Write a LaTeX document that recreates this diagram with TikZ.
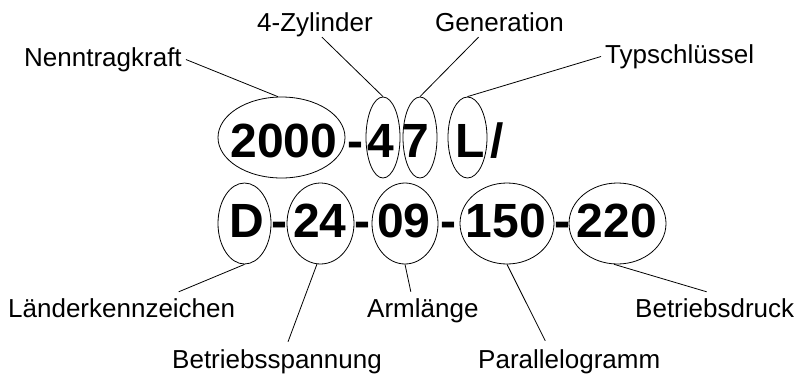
\documentclass[tikz,border=0pt]{standalone}
\usepackage{fontspec}
\setmainfont{Liberation Sans}
\usetikzlibrary{shapes.geometric,calc}

\tikzset{
  ring/.style={draw, ellipse, line width=0.8pt, inner sep=0pt},
  code/.style={anchor=base, inner sep=0pt, font=\bfseries\fontsize{48}{48}\selectfont},
  tag/.style={inner xsep=4pt, inner ysep=0pt, text height=19pt, text depth=6pt,
              font=\fontsize{26}{26}\selectfont},
  lead/.style={line width=0.8pt},
}

\begin{document}
\begin{tikzpicture}[x=1pt, y=-1pt]
  \useasboundingbox (0,0) rectangle (802,375);

  % --- first line of the type code: 2000-47 L/
  \node[ring, minimum width=127pt, minimum height=81pt] (e2000) at (281.5,137.5) {};
  \node[ring, minimum width=34pt,  minimum height=81pt] (e4)    at (383,137.5) {};
  \node[ring, minimum width=34pt,  minimum height=81pt] (e7)    at (420,137.5) {};
  \node[ring, minimum width=39pt,  minimum height=81pt] (eL)    at (467.5,137.5) {};

  \node[code] (t2000) at (284,157) {2000};
  \node[code] (h1)    at (355.5,157) {-};
  \node[code] (t4)    at (381,157) {4};
  \node[code] (t7)    at (416,157) {7};
  \node[code] (tL)    at (470,157) {L};
  \node[code] (tsl)   at (497,157) {/};

  % --- second line: D-24-09-150-220
  \node[ring, minimum width=53pt, minimum height=81pt] (eD)   at (244.5,223.5) {};
  \node[ring, minimum width=67pt, minimum height=81pt] (e24)  at (320.5,223.5) {};
  \node[ring, minimum width=66pt, minimum height=81pt] (e09)  at (405,223.5) {};
  \node[ring, minimum width=94pt, minimum height=81pt] (e150) at (507,223.5) {};
  \node[ring, minimum width=97pt, minimum height=81pt] (e220) at (617.5,223.5) {};

  \node[code] (tD)   at (247,237) {D};
  \node[code] (h2)   at (279,237) {-};
  \node[code] (t24)  at (320,237) {24};
  \node[code] (h3)   at (362.5,237) {-};
  \node[code] (t09)  at (404,237) {09};
  \node[code] (h4)   at (448.5,237) {-};
  \node[code] (t150) at (506,237) {150};
  \node[code] (h5)   at (562.5,237) {-};
  \node[code] (t220) at (617,237) {220};

  % --- labels above
  \node[tag, anchor=base west] (lnt) at (20,66)  {Nenntragkraft};
  \node[tag, anchor=base west] (lzy) at (253,31) {4-Zylinder};
  \node[tag, anchor=base west] (lge) at (431,31) {Generation};
  \node[tag, anchor=base west] (lty) at (601,63) {Typschlüssel};

  % --- labels below
  \node[tag, anchor=base west] (lla) at (4,317)   {Länderkennzeichen};
  \node[tag, anchor=base west] (lbs) at (168,368) {Betriebsspannung};
  \node[tag, anchor=base west] (lar) at (363,317) {Armlänge};
  \node[tag, anchor=base west] (lpa) at (474,368) {Parallelogramm};
  \node[tag, anchor=base west] (lbd) at (631,317) {Betriebsdruck};

  % --- leader lines
  \draw[lead] (lnt.east) -- (e2000.95);
  \draw[lead] ($(lzy.south)+(7,0)$) -- (e4.north);
  \draw[lead] ($(lge.south)+(-21,0)$) -- (e7.north);
  \draw[lead] (lty.west) -- (eL.north);

  \draw[lead] ($(lla.north)+(57,-6)$) -- (eD.south);
  \draw[lead] ($(lbs.north)+(11,-7)$) -- (e24.265);
  \draw[lead] ($(lar.north)+(-12,-6)$) -- (e09.south);
  \draw[lead] ($(lpa.north)+(-24,-8)$) -- (e150.south);
  \draw[lead] ($(lbd.north)+(-8,-6)$) -- (e220.265);
\end{tikzpicture}
\end{document}
